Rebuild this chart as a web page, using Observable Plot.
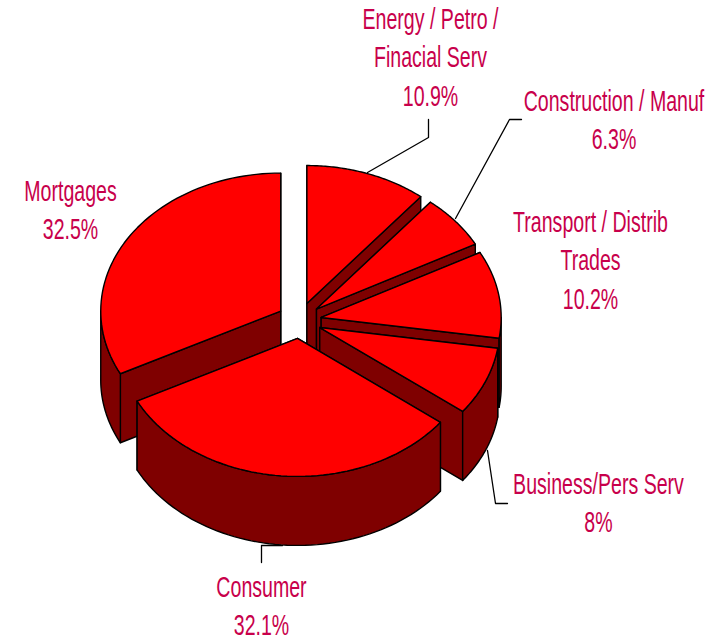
<!DOCTYPE html>
<html>
<head>
<meta charset="utf-8">
<style>html,body{margin:0;padding:0;background:#fff}svg{display:block}</style>
<script src="https://cdn.jsdelivr.net/npm/d3@7"></script>
<script src="https://cdn.jsdelivr.net/npm/@observablehq/plot@0.6"></script>
</head>
<body>
<script>
// Data, clockwise from twelve o'clock
const categories = ["Energy / Petro /\nFinacial Serv", "Construction / Manuf", "Transport / Distrib\nTrades", "Business/Pers Serv", "Consumer", "Mortgages"];
const shares = [10.9, 6.3, 10.2, 8, 32.1, 32.5];
const shareLabels = ["10.9%", "6.3%", "10.2%", "8%", "32.1%", "32.5%"];

// Layout (pixels)
const W = 717, H = 640;
const pie = {cx: 299, cy: 320, rx: 180, ry: 138, ex: 22, ey: 18, depth: 69};
const paintOrder = [0, 1, 5, 2, 3, 4];
const labelAnchors = [[430, 28], [613.5, 110], [590, 231], [598, 493], [261, 596], [70, 200]];
const lineGap = 38.5;
const leaders = [
  [[428, 119], [428, 137], [367, 172]],
  [[521, 119], [509, 119], [455, 218]],
  [[487, 450], [495, 503], [507, 503]],
  [[261, 562], [261, 545], [282, 545]]
];
const squeeze = 0.675;

// Geometry derived from the shares
const total = d3.sum(shares);
let acc = 0;
const slices = shares.map((v, i) => {
  const a0 = acc / total * 2 * Math.PI; acc += v;
  const a1 = acc / total * 2 * Math.PI;
  const mid = (a0 + a1) / 2;
  return {i, a0, a1, ox: pie.cx + pie.ex * Math.sin(mid), oy: pie.cy - pie.ey * Math.cos(mid)};
});
const rim = (s, a, dz = 0) => [s.ox + pie.rx * Math.sin(a), s.oy - pie.ry * Math.cos(a) + dz];
const arc = (s, a0, a1, dz = 0) => d3.range(0, 61).map(k => rim(s, a0 + (a1 - a0) * k / 60, dz));

const faces = [];
const add = (id, kind, pts) => pts.forEach(p => faces.push({id, kind, x: p[0], y: p[1]}));
paintOrder.forEach(i => {
  const s = slices[i], c = [s.ox, s.oy];
  const low = p => [p[0], p[1] + pie.depth];
  [s.a0, s.a1].forEach((a, k) => {
    const t = rim(s, a);
    add(`${i}-r${k}`, "wall", [c, t, low(t), low(c)]);
  });
  const f0 = Math.max(s.a0, Math.PI / 2), f1 = Math.min(s.a1, 1.5 * Math.PI);
  if (f1 > f0) add(`${i}-o`, "wall", [...arc(s, f0, f1), ...arc(s, f1, f0, pie.depth)]);
  add(`${i}-t`, "top", [c, ...arc(s, s.a0, s.a1)]);
});

const labelLines = [];
categories.forEach((c, i) => {
  [...c.split("\n"), shareLabels[i]].forEach((text, k) => {
    labelLines.push({text, x: labelAnchors[i][0], y: labelAnchors[i][1] + k * lineGap});
  });
});
const leaderPts = leaders.flatMap((l, id) => l.map(p => ({id, x: p[0], y: p[1]})));

const plot = Plot.plot({
  width: W, height: H,
  margin: 0,
  x: {domain: [0, W], range: [0, W], axis: null},
  y: {domain: [0, H], range: [0, H], axis: null},
  marks: [
    Plot.line(leaderPts, {x: "x", y: "y", z: "id", stroke: "#000", strokeWidth: 1.3, curve: "linear"}),
    Plot.line(faces, {
      x: "x", y: "y", z: "id", curve: "linear-closed",
      fill: d => d.kind === "top" ? "#ff0000" : "#7f0000",
      stroke: "#000", strokeWidth: 1.4, strokeLinejoin: "round"
    }),
    Plot.text(labelLines, {
      x: "x", y: "y", text: "text", textAnchor: "middle", lineAnchor: "bottom",
      fill: "#c8004b", fontSize: 29, fontFamily: "Liberation Sans"
    })
  ],
  style: {background: "#fff"}
});
document.body.append(plot);
d3.select(plot).selectAll("text").each(function () {
  const t = this.getAttribute("transform") || "";
  this.setAttribute("transform", `${t} scale(${squeeze},1)`);
});
</script>
</body>
</html>
